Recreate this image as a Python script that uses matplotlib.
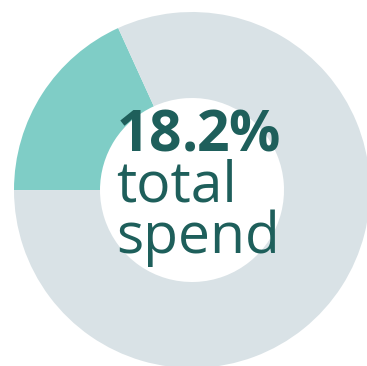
import matplotlib
matplotlib.use("Agg")
import matplotlib.pyplot as plt

labels = ["total spend", "other"]
shares = [18.2, 81.8]
colors = ["#7fcdc6", "#d9e2e6"]
headline = "18.2%"
caption = ["total", "spend"]

plt.rcParams["mathtext.fontset"] = "custom"
plt.rcParams["mathtext.rm"] = "Open Sans"
plt.rcParams["mathtext.bf"] = "Open Sans:bold"

fig = plt.figure(figsize=(3.67, 3.66), dpi=100)
ax = fig.add_axes([0, 0, 1, 1])

# donut, teal slice goes counter-clockwise from upper left to 9 o'clock
ax.pie(shares, colors=colors, startangle=114.5, counterclock=True,
       center=(192, 176), radius=178, frame=True,
       wedgeprops=dict(width=86, edgecolor="none"))
ax.set_xlim(0, 367)
ax.set_ylim(0, 366)
ax.set_aspect("equal")
ax.axis("off")

txt = "#1e5f5b"
# one block: bold headline line (mathtext) + two regular lines
lines = [r"$\mathbf{" + headline.replace("%", r"\%") + "}$"] + caption
ax.text(116, 113, "\n".join(lines), ha="left", va="baseline",
        multialignment="left", linespacing=0.86, fontsize=41,
        color=txt, family="Open Sans")

fig.savefig("out.png", dpi=100)
